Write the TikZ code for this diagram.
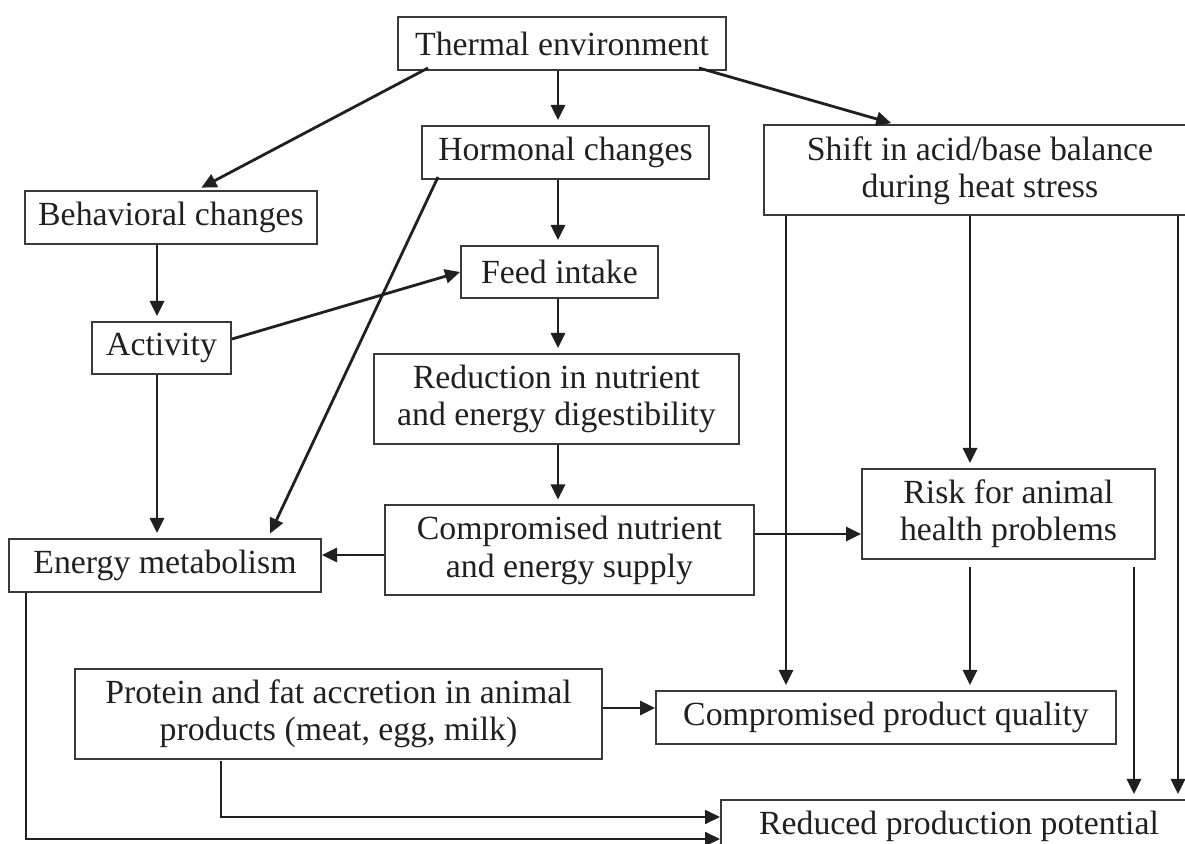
\documentclass[tikz,border=0pt]{standalone}
\usepackage{fontspec}
\setmainfont{Liberation Serif}
\usetikzlibrary{arrows.meta, calc}
\definecolor{ink}{HTML}{231F20}
\definecolor{frame}{HTML}{3A3A3A}
\tikzset{
  effect/.style={
    rectangle,
    minimum height=26.5pt,
    inner sep=0pt,
    align=center,
    draw=frame,
    line width=1pt,
    text=ink,
    font=\fontsize{16.9}{18.7}\selectfont
  },
  effecttwo/.style={
    effect,
    minimum height=45pt
  },
  arrow/.style={
    draw=ink,
    line width=1.4pt,
    -{Triangle[length=7.5pt,width=7pt]},
    shorten >=2.5pt
  },
  sidearrow/.style={arrow, shorten >=0pt},
  thinarrow/.style={sidearrow, line width=0.9pt}
}
\begin{document}
\begin{tikzpicture}[x=0.5pt,y=-0.5pt]
  \useasboundingbox (0,0) rectangle (1185,844);
  \clip (0,0) rectangle (1185,844);
  % boxes
  \node (therm) [effect, minimum width=164pt] at (562,43.5) {Thermal environment};
  \node (horm) [effect, minimum width=143.5pt] at (565.5,152.5) {Hormonal changes};
  \node (behav) [effect, minimum width=146pt] at (171,217.5) {Behavioral changes};
  \node (shift) [effecttwo, minimum width=216pt] at (980,170.5) {Shift in acid/base balance\\during heat stress};
  \node (feed) [effect, minimum width=98.5pt, minimum height=26pt] at (559.5,272) {Feed intake};
  \node (act) [effect, minimum width=69.5pt, minimum height=26pt] at (161.5,348) {Activity};
  \node (digest) [effecttwo, minimum width=182.5pt] at (556.5,399) {Reduction in nutrient\\and energy digestibility};
  \node (risk) [effecttwo, minimum width=146.5pt] at (1008.5,514) {Risk for animal\\health problems};
  \node (supply) [effecttwo, minimum width=184.5pt] at (569.5,550.5) {Compromised nutrient\\and energy supply};
  \node (energy) [effect, minimum width=156pt] at (165,565.5) {Energy metabolism};
  \node (accr) [effecttwo, minimum width=263.5pt] at (338.5,714) {Protein and fat accretion in animal\\products (meat, egg, milk)};
  \node (quality) [effect, minimum width=230pt] at (886,717.5) {Compromised product quality};
  \node (prod) [effect, minimum width=238pt] at (959,826.5) {Reduced production potential};
  % connectors
  \draw [arrow] ($(therm.south west)+(31,-3)$) -- ($(behav.north west)+(173,0)$);
  \draw [arrow] ($(therm.south)+(-4,0)$) coordinate (c1) -- (c1 |- horm.north);
  \draw [arrow] ($(therm.south east)+(-28,-3)$) -- ($(shift.north west)+(133,0)$);
  \draw [arrow] ($(horm.south)+(-7.5,0)$) coordinate (c2) -- (c2 |- feed.north);
  \draw [arrow] ($(horm.south west)+(17,-3)$) -- ($(energy.north east)+(-54,0)$);
  \draw [arrow] ($(behav.south)+(-14,0)$) coordinate (c3) -- (c3 |- act.north);
  \draw [sidearrow] ($(act.east)+(0,-9)$) -- (feed.west);
  \draw [arrow] ($(act.south)+(-4.5,0)$) coordinate (c4) -- (c4 |- energy.north);
  \draw [arrow] ($(feed.south)+(-1.5,0)$) coordinate (c5) -- (c5 |- digest.north);
  \draw [arrow] ($(digest.south)+(1.5,0)$) coordinate (c6) -- (c6 |- supply.north);
  \draw [sidearrow] ($(supply.west)+(0,4.5)$) coordinate (c7) -- (c7 -| energy.east);
  \draw [sidearrow] ($(supply.east)+(0,-16.5)$) coordinate (c8) -- (c8 -| risk.west);
  \draw [arrow] ($(shift.south west)+(23,0)$) coordinate (c9) -- (c9 |- quality.north);
  \draw [arrow] ($(shift.south)+(-10,0)$) coordinate (c10) -- (c10 |- risk.north);
  \draw [arrow] ($(shift.south east)+(-19,0)$) coordinate (c11) -- (c11 |- prod.north);
  \draw [arrow] ($(risk.south)+(-38.5,7)$) coordinate (c12) -- (c12 |- quality.north);
  \draw [arrow] ($(risk.south east)+(-22,7)$) coordinate (c13) -- (c13 |- prod.north);
  \draw [sidearrow] ($(accr.east)+(0,-6)$) coordinate (c14) -- (c14 -| quality.west);
  \draw [thinarrow] ($(accr.south west)+(147,1)$) |- ($(prod.west)+(0,-9.5)$);
  \draw [thinarrow] ($(energy.south west)+(18,0)$) |- ($(prod.west)+(0,12.5)$);
\end{tikzpicture}
\end{document}
